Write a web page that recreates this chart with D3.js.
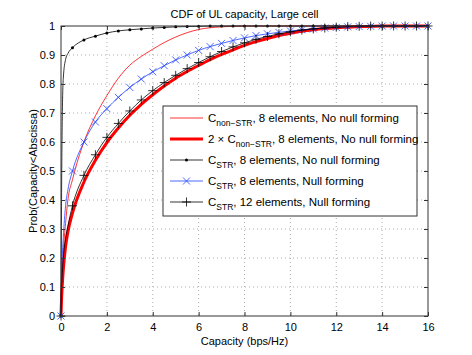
<!DOCTYPE html>
<meta charset="utf-8">
<style>
body { margin: 0; background: #fff; }
text { font-family: "Liberation Sans", Arial, sans-serif; font-size: 11px; fill: #000; }
.grid line { stroke: #999; stroke-dasharray: 1,3; stroke-width: 0.8; }
</style>
<div class="chart"></div>
<script src="https://d3js.org/d3.v7.min.js"></script>
<script>
// capacity grid (bps/Hz) where values were read
var capacity = [0, 0.02, 0.05, 0.1, 0.2, 0.3, 0.5, 1, 1.5, 2, 2.5, 3, 3.5, 4, 4.5, 5, 5.5, 6, 6.5, 7, 7.5, 8,
                8.5, 9, 9.5, 10, 10.5, 11, 11.5, 12, 12.5, 13, 13.5, 14, 14.5, 15, 15.5, 16];

var nonStr8 = [0, 0.07, 0.14, 0.22, 0.32, 0.40, 0.47, 0.60, 0.69, 0.76, 0.82, 0.865, 0.895, 0.92, 0.943, 0.962, 0.977, 0.988, 0.994, 0.997,
               0.999, 1, 1, 1, 1, 1, 1, 1, 1, 1, 1, 1, 1, 1, 1, 1, 1, 1];
var twoNonStr8 = [0, 0.05, 0.10, 0.16, 0.24, 0.29, 0.355, 0.462, 0.537, 0.598, 0.648, 0.692, 0.73, 0.763, 0.793, 0.82, 0.843, 0.864, 0.884, 0.902,
                  0.918, 0.933, 0.946, 0.957, 0.967, 0.975, 0.982, 0.987, 0.991, 0.994, 0.996, 0.998, 0.999, 1, 1, 1, 1, 1];
var str8NoNull = [0, 0.35, 0.65, 0.82, 0.885, 0.905, 0.925, 0.952, 0.965, 0.976, 0.983, 0.987, 0.99, 0.993, 0.995, 0.997, 0.998, 0.999, 1, 1,
                  1, 1, 1, 1, 1, 1, 1, 1, 1, 1, 1, 1, 1, 1, 1, 1, 1, 1];
var str8Null = [0, 0.10, 0.19, 0.27, 0.38, 0.435, 0.50, 0.60, 0.669, 0.715, 0.754, 0.788, 0.817, 0.842, 0.863, 0.883, 0.90, 0.916, 0.929, 0.94,
                0.95, 0.959, 0.967, 0.973, 0.978, 0.983, 0.987, 0.99, 0.993, 0.995, 0.997, 0.998, 0.999, 1, 1, 1, 1, 1];
var str12Null = [0, 0.08, 0.14, 0.20, 0.27, 0.31, 0.38, 0.485, 0.556, 0.616, 0.664, 0.707, 0.745, 0.777, 0.805, 0.83, 0.853, 0.874, 0.894, 0.912,
                 0.928, 0.942, 0.954, 0.964, 0.973, 0.98, 0.986, 0.99, 0.993, 0.996, 0.998, 0.999, 1, 1, 1, 1, 1, 1];

var xTicks = [0, 2, 4, 6, 8, 10, 12, 14, 16];
var yTicks = [0, 0.1, 0.2, 0.3, 0.4, 0.5, 0.6, 0.7, 0.8, 0.9, 1];

var series = [
    { name: "non−STR", pre: "", rest: ", 8 elements, No null forming", values: nonStr8, color: "#ff0000", width: 0.8, marker: null },
    { name: "non−STR", pre: "2 × ", rest: ", 8 elements, No null forming", values: twoNonStr8, color: "#ff0000", width: 3, marker: null },
    { name: "STR", pre: "", rest: ", 8 elements, No null forming", values: str8NoNull, color: "#000", width: 0.8, marker: "dot" },
    { name: "STR", pre: "", rest: ", 8 elements, Null forming", values: str8Null, color: "#2244ff", width: 0.8, marker: "x" },
    { name: "STR", pre: "", rest: ", 12 elements, Null forming", values: str12Null, color: "#000", width: 0.8, marker: "plus" }
];

var margin = { top: 26, right: 44, bottom: 39, left: 61 };
var width = 472 - margin.left - margin.right;
var height = 355 - margin.top - margin.bottom;

var svg = d3.select(".chart").append("svg")
    .attr("width", 472)
    .attr("height", 355)
    .append("g")
    .attr("transform", "translate(" + margin.left + "," + margin.top + ")");

var x = d3.scaleLinear().domain([0, 16]).range([0, width]);
var y = d3.scaleLinear().domain([0, 1]).range([height, 0]);

// dotted grid
var grid = svg.append("g").attr("class", "grid");
grid.selectAll(".gx").data(xTicks.slice(1, -1)).enter().append("line")
    .attr("x1", d => x(d)).attr("x2", d => x(d)).attr("y1", 0).attr("y2", height);
grid.selectAll(".gy").data(yTicks.slice(1, -1)).enter().append("line")
    .attr("x1", 0).attr("x2", width).attr("y1", d => y(d)).attr("y2", d => y(d));

// curves
var line = d3.line().curve(d3.curveMonotoneX);
series.forEach(function (s) {
    var pts = capacity.map((c, i) => [x(c), y(s.values[i])]);
    svg.append("path")
        .attr("d", line(pts))
        .attr("fill", "none")
        .attr("stroke", s.color)
        .attr("stroke-width", s.width);
    if (s.marker) {
        var mk = capacity.map((c, i) => ({ c: c, v: s.values[i] })).filter(d => d.c % 0.5 === 0);
        drawMarkers(svg, mk.map(d => [x(d.c), y(d.v)]), s);
    }
});

function drawMarkers(g, pts, s) {
    pts.forEach(function (p) {
        if (s.marker === "dot") {
            g.append("circle").attr("cx", p[0]).attr("cy", p[1]).attr("r", 1.5).attr("fill", s.color);
        } else if (s.marker === "x") {
            g.append("path").attr("d", "M" + (p[0] - 3.5) + "," + (p[1] - 3.5) + "L" + (p[0] + 3.5) + "," + (p[1] + 3.5) +
                "M" + (p[0] - 3.5) + "," + (p[1] + 3.5) + "L" + (p[0] + 3.5) + "," + (p[1] - 3.5))
                .attr("stroke", s.color).attr("stroke-width", 0.8);
        } else {
            g.append("path").attr("d", "M" + (p[0] - 4.5) + "," + p[1] + "H" + (p[0] + 4.5) +
                "M" + p[0] + "," + (p[1] - 4.5) + "V" + (p[1] + 4.5))
                .attr("stroke", s.color).attr("stroke-width", 0.8);
        }
    });
}

// axes box with inward ticks
var axisColor = "#333";
svg.append("rect").attr("width", width).attr("height", height)
    .attr("fill", "none").attr("stroke", axisColor).attr("stroke-width", 1);

var xb = svg.append("g").attr("transform", "translate(0," + height + ")")
    .call(d3.axisBottom(x).tickValues(xTicks).tickSizeInner(-4).tickSizeOuter(0).tickPadding(7));
var xt = svg.append("g").call(d3.axisTop(x).tickValues(xTicks).tickSizeInner(-4).tickSizeOuter(0).tickFormat(""));
var yl = svg.append("g").call(d3.axisLeft(y).tickValues(yTicks).tickSizeInner(-4).tickSizeOuter(0).tickPadding(6)
    .tickFormat(d => d === 0 || d === 1 ? d : d3.format(".1f")(d)));
var yr = svg.append("g").attr("transform", "translate(" + width + ",0)")
    .call(d3.axisRight(y).tickValues(yTicks).tickSizeInner(-4).tickSizeOuter(0).tickFormat(""));
[xb, xt, yl, yr].forEach(function (a) {
    a.select(".domain").remove();
    a.selectAll("line").attr("stroke", axisColor);
    a.selectAll("text").style("font-size", "11px").attr("fill", "#000")
        .style("font-family", "'Liberation Sans', Arial, sans-serif");
});

// labels
svg.append("text").attr("x", width / 2).attr("y", -8).attr("text-anchor", "middle")
    .text("CDF of UL capacity, Large cell");
svg.append("text").attr("x", width / 2).attr("y", height + 29).attr("text-anchor", "middle")
    .text("Capacity (bps/Hz)");
svg.append("text").attr("transform", "translate(-24," + (height / 2) + ") rotate(-90)")
    .attr("text-anchor", "middle")
    .text("Prob(Capacity<Abscissa)");

// legend
var lg = svg.append("g").attr("transform", "translate(" + (163 - margin.left) + "," + (106 - margin.top) + ")");
lg.append("rect").attr("width", 254).attr("height", 110)
    .attr("fill", "#fff").attr("stroke", axisColor).attr("stroke-width", 1);
series.forEach(function (s, i) {
    var yy = 12 + i * 21;
    lg.append("line").attr("x1", 7).attr("x2", 40).attr("y1", yy).attr("y2", yy)
        .attr("stroke", s.color).attr("stroke-width", s.width);
    if (s.marker) drawMarkers(lg, [[23.5, yy]], s);
    var t = lg.append("text").attr("x", 45).attr("y", yy + 4).style("font-size", "11.5px");
    t.append("tspan").text(s.pre + "C");
    t.append("tspan").attr("dy", 3.5).style("font-size", "8.5px").text(s.name);
    t.append("tspan").attr("dy", -3.5).text(s.rest);
});
</script>
